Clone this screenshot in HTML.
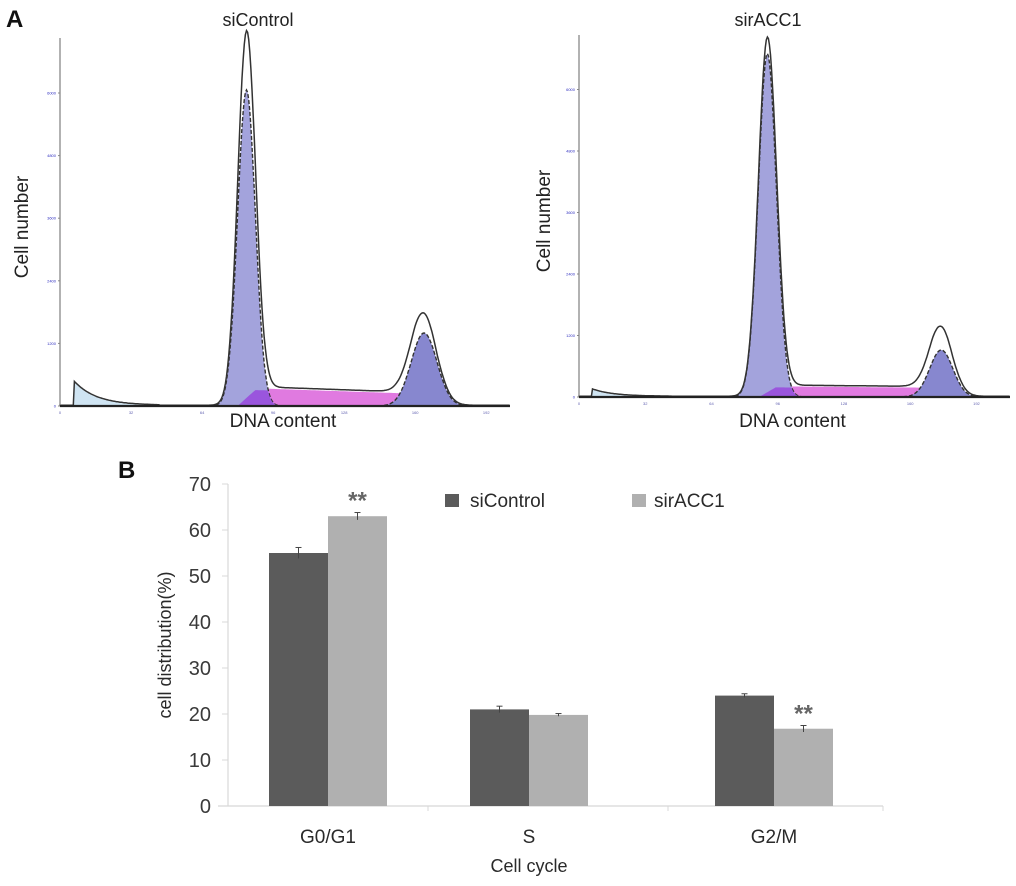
<!DOCTYPE html>
<html><head><meta charset="utf-8">
<style>
html,body{margin:0;padding:0;background:#fff;}
body{width:1016px;height:881px;overflow:hidden;font-family:"Liberation Sans",sans-serif;}
</style></head>
<body>
<svg id="fig" width="1016" height="881" viewBox="0 0 1016 881" xmlns="http://www.w3.org/2000/svg">
  <text x="6" y="27" font-size="24" font-weight="bold" fill="#111">A</text>
  <text x="118" y="478" font-size="24" font-weight="bold" fill="#111">B</text>
  <g id="histL"></g>
  <g id="histR"></g>
  <g id="bars"></g>
</svg>
<script>
// ---------- Bar chart data ----------
const categories = ["G0/G1", "S", "G2/M"];
const siControl = [55, 21, 24];
const sirACC1 = [63, 19.8, 16.8];
const siControlErr = [1.2, 0.7, 0.4];
const sirACC1Err = [0.8, 0.3, 0.7];
const yTicks = [0, 10, 20, 30, 40, 50, 60, 70];
const significant = [false, true, false, false, false, true]; // per bar (cat*2+series)

// ---------- Histogram data (cell-cycle model fits) ----------
const histTitles = ["siControl", "sirACC1"];
const xTickLabels = ["0", "32", "64", "96", "128", "160", "192"];
const yTickLabels = ["0", "1200", "2400", "3600", "4800", "6000"];
const g1Pos = [84, 91];
const g1Fit = [6060, 6700];
const g1Raw = [7000, 6900];
const g1Sigma = [4.0, 4.4];
const g2Pos = [164, 175];
const g2Fit = [1400, 917];
const g2Raw = [1620, 1250];
const g2Sigma = [5.8, 5.6];
const sStart = [345, 210];
const sEnd = [230, 180];
const debris = [480, 150];

const NS = "http://www.w3.org/2000/svg";
function mk(parent, tag, attrs, text) {
  const e = document.createElementNS(NS, tag);
  for (const k in attrs) e.setAttribute(k, attrs[k]);
  if (text !== undefined) e.textContent = text;
  parent.appendChild(e);
  return e;
}

// ---------- Histograms ----------
const histLayout = [
  {g: "histL", x0: 60, x1: 510, top: 38, base: 406, pxPerUnit: 2.22, pxPer1200: 62.6, titleX: 258, ylabX: 22},
  {g: "histR", x0: 579, x1: 1010, top: 35, base: 397, pxPerUnit: 2.07, pxPer1200: 61.5, titleX: 768, ylabX: 544}
];
function gauss(x, m, s) { return Math.exp(-0.5 * ((x - m) / s) ** 2); }

histLayout.forEach((L, i) => {
  const g = document.getElementById(L.g);
  const X = v => L.x0 + v * L.pxPerUnit;
  const Y = v => L.base - v / 1200 * L.pxPer1200;
  const xmax = (L.x1 - L.x0) / L.pxPerUnit;

  const t = mk(g, "text", {x: L.titleX, y: 26, "font-size": 18, "text-anchor": "middle", fill: "#222"}, histTitles[i]);
  
  
  const yl = mk(g, "text", {x: 0, y: 0, "font-size": 19, "text-anchor": "middle", fill: "#222", transform: `translate(${L.ylabX + 6},${(L.top + L.base) / 2 + 5}) rotate(-90)`}, "Cell number");
  
  
  const xl = mk(g, "text", {x: (L.x0 + L.x1) / 2 - 2, y: 427, "font-size": 19, "text-anchor": "middle", fill: "#222"}, "DNA content");
  
  

  const step = 0.5;
  const dbr = x => (x > 6 && x < 45) ? debris[i] * Math.exp(-(x - 6) / 10) : 0;
  const sph = x => {
    if (x < g1Pos[i] - 4 || x > g2Pos[i] + 6) return 0;
    const f = (x - g1Pos[i]) / (g2Pos[i] - g1Pos[i]);
    const ramp = Math.min(1, (x - (g1Pos[i] - 4)) / 8) * Math.min(1, ((g2Pos[i] + 6) - x) / 10);
    return (sStart[i] + (sEnd[i] - sStart[i]) * Math.max(0, Math.min(1, f))) * ramp;
  };
  const g1 = x => g1Fit[i] * gauss(x, g1Pos[i], g1Sigma[i]);
  const g2 = x => g2Fit[i] * gauss(x, g2Pos[i], g2Sigma[i]);
  function area(fn, color, name, stroke) {
    let d = `M${X(0)},${L.base}`;
    for (let x = 0; x <= xmax; x += step) d += ` L${X(x).toFixed(1)},${Y(fn(x)).toFixed(1)}`;
    d += ` L${X(xmax)},${L.base} Z`;
    const p = mk(g, "path", {d, fill: color, stroke: stroke || "none", "stroke-width": 1.4, "stroke-dasharray": stroke ? "4,2" : ""});
    
    
  }
  area(dbr, "#cfe4f2", "debris-area");
  area(sph, "#e07ae0", "s-phase-area");
  area(g2, "#8787cf", "g2-peak-area", "#333");
  area(g1, "#a3a3dc", "g1-peak-area", "#333");
  area(x => Math.min(g1(x), sph(x)) * 0.9, "#9a55dd", "overlap-area");
  const rawScale1 = g1Raw[i] / g1Fit[i], rawScale2 = g2Raw[i] / g2Fit[i];
  let d = `M${X(0)},${Y(0)}`;
  for (let x = 0; x <= xmax; x += step) {
    const v = dbr(x) + sph(x) * 1.05 + g1(x) * rawScale1 + g2(x) * rawScale2 + 15;
    d += ` L${X(x).toFixed(1)},${Y(v).toFixed(1)}`;
  }
  const raw = mk(g, "path", {d, fill: "none", stroke: "#333", "stroke-width": 1.5});
  
  

  mk(g, "line", {x1: L.x0, y1: L.top, x2: L.x0, y2: L.base, stroke: "#888", "stroke-width": 1.3});
  mk(g, "line", {x1: L.x0, y1: L.base, x2: L.x1, y2: L.base, stroke: "#222", "stroke-width": 2.2});
  xTickLabels.forEach(lab => {
    const xv = X(+lab);
    const tt = mk(g, "text", {x: xv, y: L.base + 8, "font-size": 4, "text-anchor": "middle", fill: "#6060b0"}, lab);
    
    
  });
  yTickLabels.forEach(lab => {
    const yv = Y(+lab);
    mk(g, "line", {x1: L.x0 - 2, y1: yv, x2: L.x0, y2: yv, stroke: "#888"});
    const tt = mk(g, "text", {x: L.x0 - 4, y: yv + 1.5, "font-size": 4, "text-anchor": "end", fill: "#3030c0"}, lab);
    
    
  });
});

// ---------- Bar chart ----------
(function () {
  const g = document.getElementById("bars");
  const x0 = 228, x1 = 883, y0 = 806, pxPerUnit = 4.6;
  const Y = v => y0 - v * pxPerUnit;
  const catCenter = [328, 529, 774];
  const barW = 59;
  const colDark = "#5b5b5b", colLight = "#b0b0b0";

  mk(g, "line", {x1: x0, y1: Y(70), x2: x0, y2: y0, stroke: "#d8d8d8", "stroke-width": 1.2});
  mk(g, "line", {x1: x0 - 10, y1: y0, x2: x1, y2: y0, stroke: "#d8d8d8", "stroke-width": 1.2});
  [428, 668, x1].forEach(tx => mk(g, "line", {x1: tx, y1: y0, x2: tx, y2: y0 + 5, stroke: "#d8d8d8"}));
  yTicks.forEach(v => {
    mk(g, "line", {x1: x0 - 6, y1: Y(v), x2: x0, y2: Y(v), stroke: "#d8d8d8"});
    const t = mk(g, "text", {x: 211, y: Y(v) + 7, "font-size": 20, "text-anchor": "end", fill: "#3a3a3a"}, String(v));
    
    
  });
  const yt = mk(g, "text", {x: 0, y: 0, "font-size": 18, "text-anchor": "middle", fill: "#2a2a2a", transform: `translate(171,${Y(35)}) rotate(-90)`}, "cell distribution(%)");
  
  
  const xt = mk(g, "text", {x: 529, y: 872, "font-size": 18, "text-anchor": "middle", fill: "#2a2a2a"}, "Cell  cycle");
  
  

  categories.forEach((c, i) => {
    const ct = mk(g, "text", {x: catCenter[i], y: 843, "font-size": 19, "text-anchor": "middle", fill: "#2a2a2a"}, c);
    
    
    [[siControl, siControlErr, colDark, -1], [sirACC1, sirACC1Err, colLight, 0]].forEach((s, j) => {
      const v = s[0][i], e = s[1][i];
      const bx = catCenter[i] + s[3] * barW;
      const r = mk(g, "rect", {x: bx, y: Y(v), width: barW, height: y0 - Y(v), fill: s[2]});
      
      
      const cx = bx + barW / 2;
      mk(g, "line", {x1: cx, y1: Y(v + e), x2: cx, y2: Y(v - e), stroke: "#444", "stroke-width": 1});
      mk(g, "line", {x1: cx - 3, y1: Y(v + e), x2: cx + 3, y2: Y(v + e), stroke: "#444", "stroke-width": 1});
      if (significant[i * 2 + j]) {
        const st = mk(g, "text", {x: cx, y: Y(v + e) - 4, "font-size": 24, "text-anchor": "middle", fill: "#666", "font-weight": "bold"}, "**");
        
        
      }
    });
  });
  const l1 = mk(g, "rect", {x: 445, y: 494, width: 14, height: 13, fill: colDark});
  
  
  const lt1 = mk(g, "text", {x: 470, y: 507, "font-size": 19, fill: "#2a2a2a"}, "siControl");
  
  
  const l2 = mk(g, "rect", {x: 632, y: 494, width: 14, height: 13, fill: colLight});
  
  
  const lt2 = mk(g, "text", {x: 654, y: 507, "font-size": 19, fill: "#2a2a2a"}, "sirACC1");
  
  
})();
</script>
</body></html>
